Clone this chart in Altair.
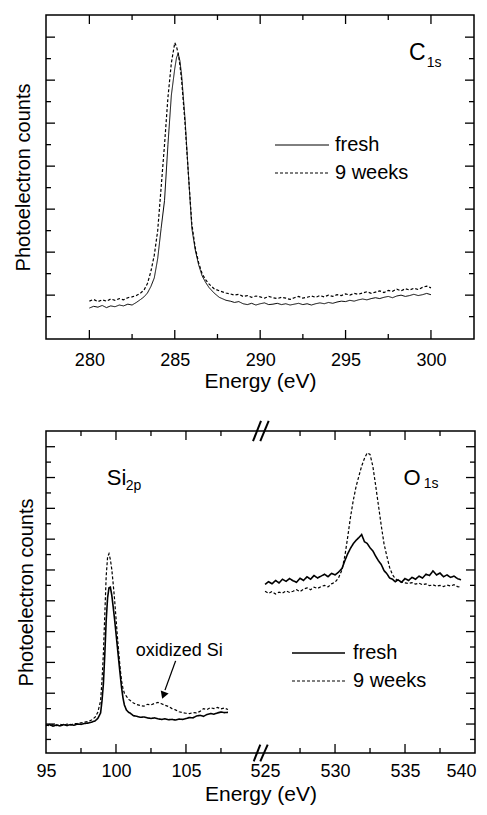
import altair as alt
import pandas as pd

# ------------------------------------------------------------------ data
series_names = ["fresh", "9 weeks"]

# C 1s region (eV) and counts (arbitrary units)
c1s_energy = [280.0, 280.25, 280.5, 280.75, 281.0, 281.25, 281.5, 281.75, 282.0, 282.25, 282.5, 282.75, 283.0,
              283.2, 283.4, 283.6, 283.8, 284.0, 284.2, 284.4, 284.6, 284.8, 285.0, 285.1, 285.2, 285.3, 285.4,
              285.6, 285.8, 286.0, 286.2, 286.4, 286.6, 286.8, 287.0, 287.3, 287.6, 288.0,
              288.25, 288.5, 288.75, 289.0, 289.25, 289.5, 289.75, 290.0, 290.25, 290.5, 290.75, 291.0,
              291.25, 291.5, 291.75, 292.0, 292.25, 292.5, 292.75, 293.0, 293.25, 293.5, 293.75, 294.0,
              294.25, 294.5, 294.75, 295.0, 295.25, 295.5, 295.75, 296.0, 296.25, 296.5, 296.75, 297.0,
              297.25, 297.5, 297.75, 298.0, 298.25, 298.5, 298.75, 299.0, 299.25, 299.5, 299.75, 300.0]
c1s_fresh = [0.70, 0.74, 0.72, 0.76, 0.71, 0.75, 0.73, 0.77, 0.75, 0.79, 0.77, 0.83, 0.90,
             0.96, 1.05, 1.20, 1.40, 1.85, 2.55, 3.20, 4.50, 5.65, 6.27, 6.52, 6.62, 6.45, 6.12,
             5.10, 3.80, 2.55, 2.05, 1.70, 1.45, 1.30, 1.18, 1.05, 0.95, 0.88,
             0.86, 0.83, 0.85, 0.80, 0.78, 0.81, 0.77, 0.80, 0.82, 0.78, 0.79, 0.81,
             0.78, 0.80, 0.77, 0.79, 0.81, 0.78, 0.80, 0.77, 0.80, 0.82, 0.80, 0.83,
             0.81, 0.84, 0.86, 0.85, 0.88, 0.86, 0.89, 0.91, 0.89, 0.92, 0.94, 0.92,
             0.95, 0.97, 0.94, 0.98, 1.00, 0.97, 0.99, 1.02, 0.99, 1.01, 1.04, 1.01]
c1s_9weeks = [0.86, 0.90, 0.85, 0.89, 0.86, 0.91, 0.88, 0.92, 0.89, 0.94, 0.96, 0.99, 1.05,
              1.12, 1.27, 1.55, 1.93, 2.50, 3.50, 4.50, 5.60, 6.40, 6.87, 6.78, 6.62, 6.35, 6.00,
              5.00, 3.80, 2.65, 2.10, 1.75, 1.50, 1.36, 1.26, 1.15, 1.10, 1.05,
              1.03, 1.00, 1.02, 0.97, 0.99, 0.95, 0.98, 0.96, 0.93, 0.97, 0.94, 0.92,
              0.95, 0.93, 0.90, 0.94, 0.97, 0.93, 0.95, 0.98, 0.95, 0.99, 0.96, 1.00,
              0.97, 1.01, 0.99, 1.03, 1.00, 1.04, 1.02, 1.05, 1.08, 1.04, 1.07, 1.10,
              1.06, 1.11, 1.09, 1.14, 1.10, 1.15, 1.12, 1.16, 1.13, 1.18, 1.21, 1.17]

# Si 2p region
si2p_energy = [95.0, 95.25, 95.5, 95.75, 96.0, 96.25, 96.5, 96.75, 97.0, 97.25, 97.5, 97.75, 98.0, 98.25, 98.5,
               98.7, 98.9,
               99.0, 99.1, 99.2, 99.3, 99.4, 99.5, 99.6, 99.7, 99.8, 99.9, 100.0, 100.1, 100.2, 100.3, 100.4,
               100.5, 100.6,
               100.75, 100.9,
               101.0, 101.25, 101.5, 101.75, 102.0, 102.25, 102.5, 102.75, 103.0, 103.25, 103.5, 103.75,
               104.0, 104.25, 104.5, 104.75, 105.0, 105.25, 105.5, 105.75, 106.0, 106.25, 106.5, 106.75,
               107.0, 107.25, 107.5, 107.75, 108.0]
si2p_fresh = [0.95, 0.98, 0.93, 0.97, 0.94, 0.98, 0.95, 0.98, 0.96, 1.00, 0.99, 1.02, 1.03, 1.06, 1.10,
              1.18, 1.36,
              1.75, 2.30, 3.25, 4.35, 5.10, 5.42, 5.44, 5.18, 4.80, 4.40, 3.95, 3.50, 3.05, 2.60, 2.18,
              1.85, 1.62,
              1.45, 1.38,
              1.36, 1.27, 1.25, 1.22, 1.23, 1.20, 1.18, 1.20, 1.17, 1.15, 1.17, 1.14,
              1.15, 1.13, 1.16, 1.15, 1.18, 1.21, 1.20, 1.26, 1.28, 1.25, 1.31, 1.34,
              1.32, 1.36, 1.39, 1.37, 1.38]
si2p_9weeks = [0.97, 0.94, 0.98, 0.95, 0.99, 0.96, 1.00, 0.97, 1.01, 1.02, 1.04, 1.06, 1.08, 1.13, 1.22,
               1.38, 1.75,
               2.40, 3.30, 4.55, 5.80, 6.42, 6.53, 6.34, 6.02, 5.55, 5.04, 4.45, 3.85, 3.30, 2.80, 2.40,
               2.15, 2.00,
               1.90, 1.80,
               1.77, 1.68, 1.63, 1.60, 1.58, 1.64, 1.62, 1.67, 1.70, 1.66, 1.61, 1.57,
               1.50, 1.46, 1.40, 1.37, 1.35, 1.34, 1.37, 1.36, 1.41, 1.50, 1.47, 1.53,
               1.50, 1.54, 1.49, 1.52, 1.47]

# O 1s region
o1s_energy = [525.0, 525.25, 525.5, 525.75, 526.0, 526.25, 526.5, 526.75, 527.0, 527.25, 527.5, 527.75,
              528.0, 528.25, 528.5, 528.75, 529.0, 529.25, 529.5, 529.75, 530.0, 530.25,
              530.5, 530.7, 530.9, 531.1, 531.3, 531.5, 531.7, 531.9, 532.1, 532.3, 532.5, 532.7,
              532.9, 533.1, 533.3, 533.5, 533.7, 533.9, 534.1, 534.3, 534.5,
              534.75, 535.0, 535.25, 535.5, 535.75, 536.0, 536.25, 536.5, 536.75, 537.0, 537.25,
              537.5, 537.75, 538.0, 538.25, 538.5, 538.75, 539.0]
o1s_fresh = [5.53, 5.62, 5.55, 5.66, 5.58, 5.70, 5.63, 5.72, 5.65, 5.60, 5.73, 5.66,
             5.78, 5.70, 5.82, 5.74, 5.80, 5.86, 5.78, 5.89, 5.84, 5.93,
             6.05, 6.30, 6.52, 6.70, 6.85, 6.96, 7.05, 7.15, 6.92, 6.86, 6.72, 6.62,
             6.45, 6.30, 6.18, 5.98, 5.88, 5.74, 5.70, 5.62, 5.68,
             5.60, 5.72, 5.66, 5.76, 5.70, 5.80, 5.74, 5.86, 5.82, 5.97, 5.84,
             5.90, 5.78, 5.84, 5.76, 5.80, 5.72, 5.68]
o1s_9weeks = [5.31, 5.24, 5.30, 5.22, 5.28, 5.25, 5.32, 5.27, 5.31, 5.36, 5.30, 5.38,
              5.42, 5.36, 5.44, 5.40, 5.46, 5.50, 5.45, 5.55, 5.60, 5.74,
              6.01, 6.45, 7.05, 7.70, 8.25, 8.70, 9.04, 9.37, 9.62, 9.80, 9.75, 9.37,
              8.75, 8.10, 7.45, 6.85, 6.45, 6.08, 5.85, 5.72, 5.66,
              5.60, 5.58, 5.56, 5.59, 5.54, 5.57, 5.52, 5.55, 5.49, 5.52, 5.47,
              5.50, 5.46, 5.51, 5.48, 5.52, 5.46, 5.44]

# tick values
top_x_labels = [280, 285, 290, 295, 300]
top_x_minor = [282.5, 287.5, 292.5, 297.5]
top_y_major = [1, 2, 3, 4, 5, 6, 7]
top_y_minor = [0.5, 1.5, 2.5, 3.5, 4.5, 5.5, 6.5]
bot_x_labels = [95, 100, 105, 525, 530, 535, 540]
bot_x_major = [100, 105, 530, 535]
bot_x_minor = [97.5, 102.5, 107.5, 527.5, 532.5, 537.5]
bot_y_major = [1, 2, 3, 4, 5, 6, 7, 8, 9, 10]
bot_y_minor = [0.5, 1.5, 2.5, 3.5, 4.5, 5.5, 6.5, 7.5, 8.5, 9.5]

# ------------------------------------------------------------------ layout
FONT = "Liberation Sans"
W1, H1 = 428, 324
W2, H2 = 429, 322
X1_DOM = [277.46, 302.52]
Y1_DOM = [-0.02, 7.515]
X2_DOM = [95.0, 125.65]
Y2_DOM = [0.06, 10.51]
SHIFT = 414.35          # O 1s energies are drawn shifted left to sit after the axis break
CUT = 300
BREAK_EXPR = f"datum.E > {CUT} ? datum.E - {SHIFT} : datum.E"
MAJOR, MINOR = 9, 5


def spectra(energy, fresh, weeks, region):
    n = len(energy)
    return pd.DataFrame({
        "E": list(energy) * 2,
        "counts": list(fresh) + list(weeks),
        "series": ["fresh"] * n + ["9 weeks"] * n,
        "region": [region] * (2 * n),
    })


top_df = spectra(c1s_energy, c1s_fresh, c1s_9weeks, "C1s")
bot_df = pd.concat([spectra(si2p_energy, si2p_fresh, si2p_9weeks, "Si2p"),
                    spectra(o1s_energy, o1s_fresh, o1s_9weeks, "O1s")], ignore_index=True)


def y_axis(pad):
    return alt.Axis(title="Photoelectron counts", labels=False, ticks=False, tickSize=0, domain=False,
                    grid=False, titleFont=FONT, titleFontSize=20, titleFontWeight=400,
                    titleColor="black", titlePadding=pad)


def x_axis(values, lpad, tpad, **extra):
    kw = dict(title="Energy (eV)", values=values, labelFlush=False, ticks=False, tickSize=0,
              domain=False, grid=False, labelFont=FONT, labelFontSize=18, labelColor="black",
              labelPadding=lpad, titleFont=FONT, titleFontSize=21, titleFontWeight=400,
              titleColor="black", titlePadding=tpad, labelOverlap=False)
    kw.update(extra)
    return alt.Axis(**kw)


def tick_layer(values, side, length, P):
    base = alt.Chart(pd.DataFrame({"E": values})).transform_calculate(p=BREAK_EXPR)
    m = base.mark_rule(color="black", strokeWidth=1.3)
    W, H = P["W"], P["H"]
    if side in ("bottom", "top"):
        x = alt.X("p:Q", scale=P["xs"])
        if side == "bottom":
            return m.encode(x=x, y=alt.value(H), y2=alt.value(H - length))
        return m.encode(x=x, y=alt.value(0), y2=alt.value(length))
    y = alt.Y("p:Q", scale=P["ys"])
    if side == "left":
        return m.encode(y=y, x=alt.value(0), x2=alt.value(length))
    return m.encode(y=y, x=alt.value(W), x2=alt.value(W - length))


def all_ticks(xmaj, xmin, ymaj, ymin, P):
    layers = []
    for side in ("bottom", "top"):
        layers.append(tick_layer(xmaj, side, MAJOR, P))
        layers.append(tick_layer(xmin, side, MINOR, P))
    for side in ("left", "right"):
        layers.append(tick_layer(ymaj, side, MAJOR, P))
        layers.append(tick_layer(ymin, side, MINOR, P))
    return layers


def xy(P, xf="x:Q", yf="y:Q"):
    return dict(x=alt.X(xf, scale=P["xs"]), y=alt.Y(yf, scale=P["ys"]))


def text_layer(rows, size, P):
    df = pd.DataFrame(rows, columns=["x", "y", "t"])
    return alt.Chart(df).mark_text(align="left", baseline="alphabetic", font=FONT,
                                   fontSize=size, color="black").encode(text="t:N", **xy(P))


def legend(lx, ly, sym, offset, sw):
    return alt.Legend(title=None, orient="none", legendX=lx, legendY=ly, labelFontSize=20,
                      labelFont=FONT, labelColor="black", symbolType="stroke", symbolSize=sym * sym,
                      symbolStrokeWidth=sw, symbolStrokeColor="black", labelOffset=offset,
                      clipHeight=24, rowPadding=4, padding=0)


# ------------------------------------------------------------------ top panel (C 1s)
P1 = dict(W=W1, H=H1,
          xs=alt.Scale(domain=X1_DOM, nice=False, zero=False),
          ys=alt.Scale(domain=Y1_DOM, nice=False, zero=False))

top_lines = alt.Chart(top_df).transform_calculate(p=BREAK_EXPR).mark_line(color="black").encode(
    x=alt.X("p:Q", scale=P1["xs"], axis=x_axis(top_x_labels, 12, 1)),
    y=alt.Y("counts:Q", scale=P1["ys"], axis=y_axis(13)),
    strokeDash=alt.StrokeDash("series:N", scale=alt.Scale(domain=series_names, range=[[1, 0], [3, 2]]),
                              legend=legend(228, 118, 54, 5, 1.2)),
    strokeWidth=alt.StrokeWidth("series:N", scale=alt.Scale(domain=series_names, range=[1.0, 1.2]),
                                legend=None),
    detail="region:N",
)

top_text = [
    text_layer([[298.71, 6.47, "C"]], 23, P1),
    text_layer([[299.75, 6.31, "1s"]], 14, P1),
]

top = alt.layer(top_lines, *all_ticks(top_x_labels, top_x_minor, top_y_major, top_y_minor, P1),
                *top_text).properties(width=W1, height=H1)

# ------------------------------------------------------------------ bottom panel (Si 2p / O 1s)
label_pos = [v - SHIFT if v > CUT else v for v in bot_x_labels]
P2 = dict(W=W2, H=H2,
          xs=alt.Scale(domain=X2_DOM, nice=False, zero=False),
          ys=alt.Scale(domain=Y2_DOM, nice=False, zero=False))

bot_lines = alt.Chart(bot_df).transform_calculate(p=BREAK_EXPR).mark_line(color="black").encode(
    x=alt.X("p:Q", scale=P2["xs"], axis=x_axis(
        label_pos, 9, 3,
        labelExpr=f"datum.value > 110.3 ? format(datum.value + {SHIFT}, '.0f') : format(datum.value, '.0f')",
        labelOffset={"condition": {"test": "datum.value > 125", "value": -14}, "value": 0})),
    y=alt.Y("counts:Q", scale=P2["ys"], axis=y_axis(10)),
    strokeDash=alt.StrokeDash("series:N", scale=alt.Scale(domain=series_names, range=[[1, 0], [3, 2]]),
                              legend=legend(245, 210, 53, 7, 1.6)),
    strokeWidth=alt.StrokeWidth("series:N", scale=alt.Scale(domain=series_names, range=[1.6, 1.2]),
                                legend=None),
    detail="region:N",
)

# axis-break slashes (plot coordinates)
ytop = Y2_DOM[1]
break_df = pd.DataFrame({
    "x": [109.79, 110.31, 109.84, 110.31],
    "x2": [110.36, 110.91, 110.31, 110.84],
    "y": [ytop - 0.33, ytop - 0.33, -0.21, -0.21],
    "y2": [ytop + 0.33, ytop + 0.33, 0.33, 0.33],
})
breaks = alt.Chart(break_df).mark_rule(color="black", strokeWidth=2).encode(
    x2="x2:Q", y2="y2:Q", **xy(P2))

arrow_df = pd.DataFrame({"x": [104.26], "y": [3.05], "x2": [103.5], "y2": [2.1]})
arrow = alt.Chart(arrow_df).mark_rule(color="black", strokeWidth=1.3).encode(
    x2="x2:Q", y2="y2:Q", **xy(P2))
head_df = pd.DataFrame({"x": [103.39], "y": [1.93]})
head = alt.Chart(head_df).mark_point(shape="triangle-down", filled=True, color="black", size=70,
                                     angle=20, opacity=1).encode(**xy(P2))

bot_text = [
    text_layer([[99.34, 8.76, "Si"], [120.55, 8.76, "O"]], 22, P2),
    text_layer([[100.69, 8.6, "2p"], [121.98, 8.66, "1s"]], 14, P2),
    text_layer([[101.41, 3.21, "oxidized Si"]], 18, P2),
]

bottom = alt.layer(bot_lines,
                   *all_ticks(bot_x_major, bot_x_minor, bot_y_major, bot_y_minor, P2),
                   breaks, arrow, head, *bot_text).properties(width=W2, height=H2)

chart = alt.vconcat(top, bottom, spacing=27).resolve_scale(
    x="independent", y="independent", strokeDash="independent", strokeWidth="independent"
).resolve_legend(strokeDash="independent").properties(
    padding={"top": 5, "bottom": 0, "left": 4, "right": 0}
).configure(font=FONT).configure_axis(titleFontWeight=400).configure_view(
    stroke="black", strokeWidth=1.5)

chart.save("out.html", embed_options={"renderer": "svg", "actions": False})
